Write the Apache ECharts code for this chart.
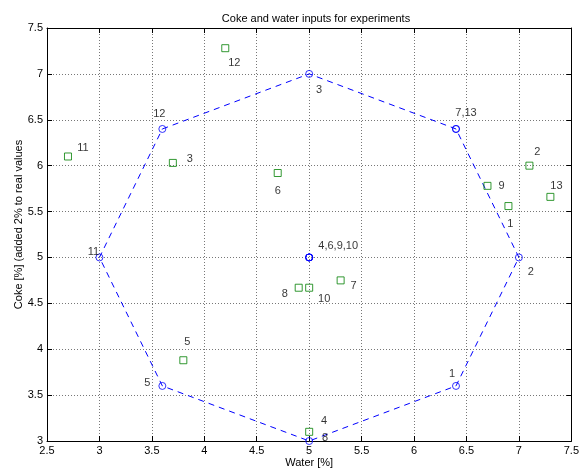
<!DOCTYPE html>
<html>
<head>
<meta charset="utf-8">
<script src="https://cdn.jsdelivr.net/npm/echarts@6/dist/echarts.min.js"></script>
<style>
  html, body { margin: 0; padding: 0; background: #fff; }
  #chart { width: 582px; height: 473px; }
</style>
</head>
<body>
<div id="chart"></div>
<script>
// Experiment numbers 1..13
const expNo = ['1', '2', '3', '4', '5', '6', '7', '8', '9', '10', '11', '12', '13'];

// Planned (design) inputs per experiment
const designWater = [6.4, 7.0, 5.0, 5.0, 3.6, 5.0, 6.4, 5.0, 5.0, 5.0, 3.0, 3.6, 6.4];
const designCoke  = [3.6, 5.0, 7.0, 5.0, 3.6, 5.0, 6.4, 3.0, 5.0, 5.0, 5.0, 6.4, 6.4];

// Actual inputs per experiment
const actualWater = [6.9, 7.1, 3.7, 5.0, 3.8, 4.7, 5.3, 4.9, 6.7, 5.0, 2.7, 4.2, 7.3];
const actualCoke  = [5.56, 6.0, 6.03, 3.1, 3.88, 5.92, 4.75, 4.67, 5.78, 4.67, 6.1, 7.28, 5.66];

// Order of experiments around the design octagon (closed)
const octagonOrder = [12, 3, 7, 2, 1, 8, 5, 11, 12];

// Group labels for the design points (one per distinct location)
const designLabelText = ['12', '3', '7,13', '2', '1', '8', '5', '11', '4,6,9,10'];
const designLabelExp  = [12, 3, 7, 2, 1, 8, 5, 11, 4];

// Axis tick settings
const xMin = 2.5, xMax = 7.5, xStep = 0.5;
const yMin = 3, yMax = 7.5, yStep = 0.5;

// Label placement (pixel offsets of the text centre from the point)
const designLabelOffsets = [[-3, -15], [10, 16], [10, -16], [12, 15], [-4, -12], [16, -3], [-15, -3], [-6, -5], [29, -11]];
const actualLabelOffsets = [[2, 18], [8, -14], [17, -4], [15, -11], [4, -18], [0, 18], [13, 6], [-14, 6], [14, 0], [15, 11], [15, -9], [9, 15], [6, -11]];

const FONT = '"Liberation Sans", Arial, Helvetica, sans-serif';
const chart = echarts.init(document.getElementById('chart'), null, { renderer: 'canvas' });

const octagonData = octagonOrder.map(n => [designWater[n - 1], designCoke[n - 1]]);
const designData = designWater.map((w, i) => [w, designCoke[i]]);
const actualData = actualWater.map((w, i) => ({
  value: [w, actualCoke[i]],
  label: { show: true, formatter: expNo[i], offset: actualLabelOffsets[i] }
}));
const designLabelData = designLabelExp.map((n, i) => ({
  value: [designWater[n - 1], designCoke[n - 1]],
  label: { show: true, formatter: designLabelText[i], offset: designLabelOffsets[i] }
}));

const labelStyle = { position: 'inside', color: '#000', fontSize: 11, fontFamily: FONT };

const baseX = {
  type: 'value', min: xMin, max: xMax, interval: xStep,
  axisLine: { show: true, onZero: false, lineStyle: { color: '#000', width: 1 } },
  axisTick: { show: true, inside: true, length: 5, lineStyle: { color: '#000' } }
};
const baseY = {
  type: 'value', min: yMin, max: yMax, interval: yStep,
  axisLine: { show: true, onZero: false, lineStyle: { color: '#000', width: 1 } },
  axisTick: { show: true, inside: true, length: 5, lineStyle: { color: '#000' } }
};

chart.setOption({
  animation: false,
  backgroundColor: '#fff',
  title: {
    text: 'Coke and water inputs for experiments',
    left: 311, top: 8, textAlign: 'center',
    textStyle: { fontSize: 11, fontWeight: 'normal', color: '#000', fontFamily: FONT }
  },
  grid: { left: 47, right: 7, top: 28, bottom: 29, containLabel: false },
  xAxis: [
    Object.assign({}, baseX, {
      position: 'bottom',
      name: 'Water [%]', nameLocation: 'middle', nameGap: 16, nameMoveOverlap: false,
      nameTextStyle: { fontSize: 11, color: '#000', fontFamily: FONT },
      axisLabel: { margin: 4, fontSize: 11, color: '#000', fontFamily: FONT },
      splitLine: { show: true, lineStyle: { color: '#777', width: 1, type: [1, 2] } }
    }),
    Object.assign({}, baseX, {
      position: 'top',
      axisLabel: { show: false },
      splitLine: { show: false }
    })
  ],
  yAxis: [
    Object.assign({}, baseY, {
      position: 'left',
      name: 'Coke [%] (added 2% to real values', nameLocation: 'middle', nameGap: 23, nameMoveOverlap: false,
      nameTextStyle: { fontSize: 11, color: '#000', fontFamily: FONT, padding: [0, 0, 0, 20] },
      axisLabel: { margin: 4, fontSize: 11, color: '#000', fontFamily: FONT },
      splitLine: { show: true, lineStyle: { color: '#777', width: 1, type: [1, 2] } }
    }),
    Object.assign({}, baseY, {
      position: 'right',
      axisLabel: { show: false },
      splitLine: { show: false }
    })
  ],
  series: [
    {
      name: 'octagon', type: 'line', data: octagonData,
      xAxisIndex: 0, yAxisIndex: 0,
      showSymbol: false, symbol: 'none', clip: false,
      lineStyle: { color: '#0000ff', width: 1, type: [6, 5] },
      z: 2
    },
    {
      name: 'design', type: 'scatter', data: designData,
      symbol: 'circle', symbolSize: 7, clip: false,
      itemStyle: { color: 'transparent', borderColor: '#0000ff', borderWidth: 1 },
      z: 3
    },
    {
      name: 'designLabels', type: 'scatter', data: designLabelData,
      symbol: 'circle', symbolSize: 0, clip: false, silent: true,
      label: labelStyle,
      z: 4
    },
    {
      name: 'actual', type: 'scatter', data: actualData,
      symbol: 'rect', symbolSize: 7, clip: false,
      itemStyle: { color: 'transparent', borderColor: '#008000', borderWidth: 1 },
      label: labelStyle,
      z: 3
    }
  ]
});
</script>
</body>
</html>
